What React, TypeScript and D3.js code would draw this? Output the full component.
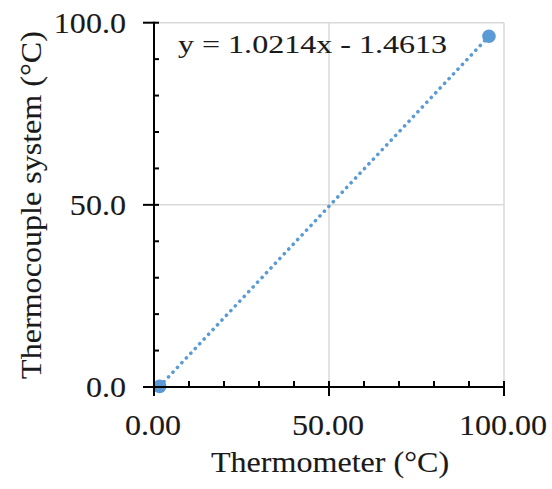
import React from "react";
import * as d3 from "d3";

const xValues = [1.6, 95.7];
const yValues = [0.17, 96.29];
const xTicks = [0, 50, 100];
const yTicks = [0, 50, 100];
const minorTicks = [10, 20, 30, 40, 60, 70, 80, 90];
const slope = 1.0214;
const intercept = -1.4613;
const equation = "y = 1.0214x  - 1.4613";

const W = 552, H = 489;
const FONT = "'Liberation Serif', 'Times New Roman', serif";
const BLUE = "#5B9BD5";
const TXT = "#1a1a1a";

function T({ x, y, anchor = "start", size = 30, sx = 1.07, rot = 0, children }: any) {
  return (
    <text
      transform={`translate(${x},${y}) rotate(${rot}) scale(${sx},1)`}
      textAnchor={anchor}
      fontFamily={FONT}
      fontSize={size}
      fill={TXT}
      stroke={TXT}
      strokeWidth={0.12}
    >
      {children}
    </text>
  );
}

export default function App() {
  const x = d3.scaleLinear().domain([0, 100]).range([154, 504]);
  const y = d3.scaleLinear().domain([0, 100]).range([387, 22.7]);
  const xMin = d3.min(xValues)!, xMax = d3.max(xValues)!;
  const trend = d3.line<number>().x((v) => x(v)).y((v) => y(slope * v + intercept));
  return (
    <svg width={W} height={H} style={{ position: "absolute", left: 0, top: 0, background: "#fff" }}>
      {yTicks.filter((t) => t > 0).map((t) => (
        <line key={"gy" + t} x1={x(0)} x2={x(100)} y1={y(t)} y2={y(t)} stroke="#d9d9d9" strokeWidth={1.5} />
      ))}
      {xTicks.filter((t) => t > 0).map((t) => (
        <line key={"gx" + t} x1={x(t)} x2={x(t)} y1={y(0)} y2={y(100)} stroke="#d9d9d9" strokeWidth={1.5} />
      ))}
      <text x={178} y={53} fontFamily={FONT} fontSize={26} fill={TXT} stroke={TXT} strokeWidth={0.1} textLength={269} lengthAdjust="spacingAndGlyphs">{equation}</text>
      <path d={trend([xMin, xMax]) || ""} fill="none" stroke={BLUE} strokeWidth={3.6} strokeDasharray="0.1 6.4" strokeLinecap="round" />
      {xValues.map((v, i) => (
        <circle key={"p" + i} cx={x(v)} cy={y(yValues[i])} r={6.8} fill={BLUE} />
      ))}
      <line x1={x(0)} x2={x(0)} y1={y(0) + 1} y2={y(100) - 1} stroke="#000" strokeWidth={2} />
      <line x1={x(0) - 1} x2={x(100) + 1} y1={y(0)} y2={y(0)} stroke="#000" strokeWidth={2} />
      {yTicks.map((t) => (
        <line key={"ty" + t} x1={x(0) - 11} x2={t === 0 ? x(0) : x(0) + 5} y1={y(t)} y2={y(t)} stroke="#000" strokeWidth={2} />
      ))}
      {minorTicks.map((t) => (
        <line key={"my" + t} x1={x(0)} x2={x(0) + 5} y1={y(t)} y2={y(t)} stroke="#000" strokeWidth={2} />
      ))}
      {xTicks.map((t) => (
        <line key={"tx" + t} x1={x(t)} x2={x(t)} y1={t === 0 ? y(0) : y(0) - 6} y2={y(0) + 9} stroke="#000" strokeWidth={2} />
      ))}
      {minorTicks.map((t) => (
        <line key={"mx" + t} x1={x(t)} x2={x(t)} y1={y(0) - 6} y2={y(0)} stroke="#000" strokeWidth={2} />
      ))}
      {yTicks.map((t) => (
        <T key={"ly" + t} x={126} y={y(t) + 10} anchor="end">{t.toFixed(1)}</T>
      ))}
      {xTicks.map((t) => (
        <T key={"lx" + t} x={x(t) - 1} y={435} anchor="middle">{t.toFixed(2)}</T>
      ))}
      <T x={330} y={472} anchor="middle">Thermometer (°C)</T>
      <T x={41} y={205} anchor="middle" rot={-90}>Thermocouple system (°C)</T>
    </svg>
  );
}
